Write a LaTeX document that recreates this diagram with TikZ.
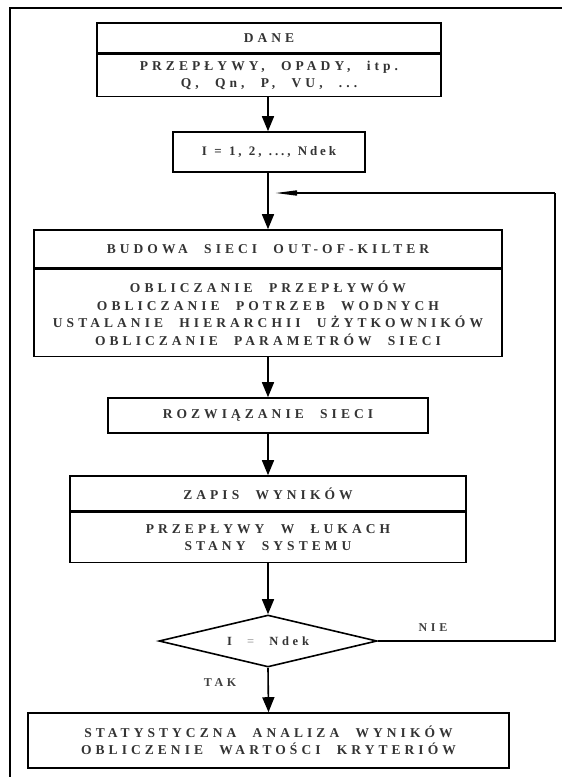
\documentclass[tikz,border=0pt]{standalone}
\usepackage{fontspec}
\setmainfont{Liberation Serif}[LetterSpace=30,WordSpace=2.2]
\newfontfamily\countfont{Liberation Serif}[LetterSpace=22,WordSpace=1.2]
\usetikzlibrary{arrows.meta,shapes.geometric}

\tikzset{
  box/.style={draw, line width=1.6pt, rectangle, inner sep=0pt, align=center,
    font=\fontsize{13.5}{17.5}\selectfont\bfseries, text=black!80},
  flow/.style={line width=1.6pt, -{Triangle[width=12pt,length=15pt]}},
  line/.style={line width=1.6pt},
  back/.style={line width=1.6pt, -{Triangle[width=5pt,length=22pt]}},
  decision/.style={draw, line width=1.6pt, diamond, aspect=4.2, inner sep=0pt,
    minimum width=218pt, minimum height=52pt,
    font=\fontsize{12.5}{14}\selectfont\bfseries, text=black!80},
  lbl/.style={font=\fontsize{12}{14}\selectfont\bfseries, text=black!75},
  frameline/.style={line width=1.4pt}
}

\begin{document}
\begin{tikzpicture}[x=1pt,y=-1pt]
  \useasboundingbox (0,0) rectangle (562,777);

  % page frame
  \coordinate (fb) at (10,777);
  \coordinate (ftl) at (10,8);
  \coordinate (fr) at (562,8);
  \draw[frameline] (fb) -- (ftl) -- (fr);

  % input data
  \node[box, minimum width=344pt, minimum height=30pt] (dane) at (269,38) {DANE};
  \node[box, minimum width=344pt, minimum height=42pt, anchor=north] (daneb) at (dane.south)
    {PRZEPŁYWY, OPADY, itp.\\Q, Qn, P, VU, ...};

  % loop counter
  \node[box, minimum width=192pt, minimum height=40pt, font=\countfont\fontsize{13}{15}\selectfont\bfseries]
    (licz) at (269,152) {I = 1, 2, ..., Ndek};

  % network construction
  \node[box, minimum width=468pt, minimum height=38pt] (bud) at (268,249) {BUDOWA SIECI OUT-OF-KILTER};
  \node[box, minimum width=468pt, minimum height=87pt, anchor=north] (budb) at (bud.south)
    {OBLICZANIE PRZEPŁYWÓW\\OBLICZANIE POTRZEB WODNYCH\\USTALANIE HIERARCHII UŻYTKOWNIKÓW\\OBLICZANIE PARAMETRÓW SIECI};

  % solving
  \node[box, minimum width=320pt, minimum height=35pt] (roz) at (268,415.5) {ROZWIĄZANIE SIECI};

  % results
  \node[box, minimum width=396pt, minimum height=35pt] (zap) at (268,493.5) {ZAPIS WYNIKÓW};
  \node[box, minimum width=396pt, minimum height=50pt, anchor=north] (zapb) at (zap.south)
    {PRZEPŁYWY W ŁUKACH\\STANY SYSTEMU};

  % test
  \node[decision] (test) at (268,641) {I \textcolor{black!35}{=} Ndek};

  % final statistics
  \node[box, minimum width=481pt, minimum height=55pt] (stat) at (268.5,740.5)
    {STATYSTYCZNA ANALIZA WYNIKÓW\\OBLICZENIE WARTOŚCI KRYTERIÓW};

  % connectors
  \coordinate (junc) at (268,193);
  \coordinate (loopr) at (555,193);
  \coordinate (loopb) at (555,641);

  \draw[flow] (daneb.south -| 268,0) -- (licz.north -| 268,0);
  \draw[line] (licz.south -| 268,0) -- (junc);
  \draw[flow] (junc) -- (bud.north);
  \draw[flow] (budb.south) -- (roz.north);
  \draw[flow] (roz.south) -- (zap.north);
  \draw[flow] (zapb.south) -- (test.north);
  \draw[flow] (test.south) -- (stat.north);
  \draw[line] (test.east) -- (loopb) -- (loopr);
  \draw[back, shorten >=7pt] (loopr) -- (junc);

  \node[lbl] at (433,628) {NIE};
  \node[lbl] at (220,683) {TAK};
\end{tikzpicture}
\end{document}
